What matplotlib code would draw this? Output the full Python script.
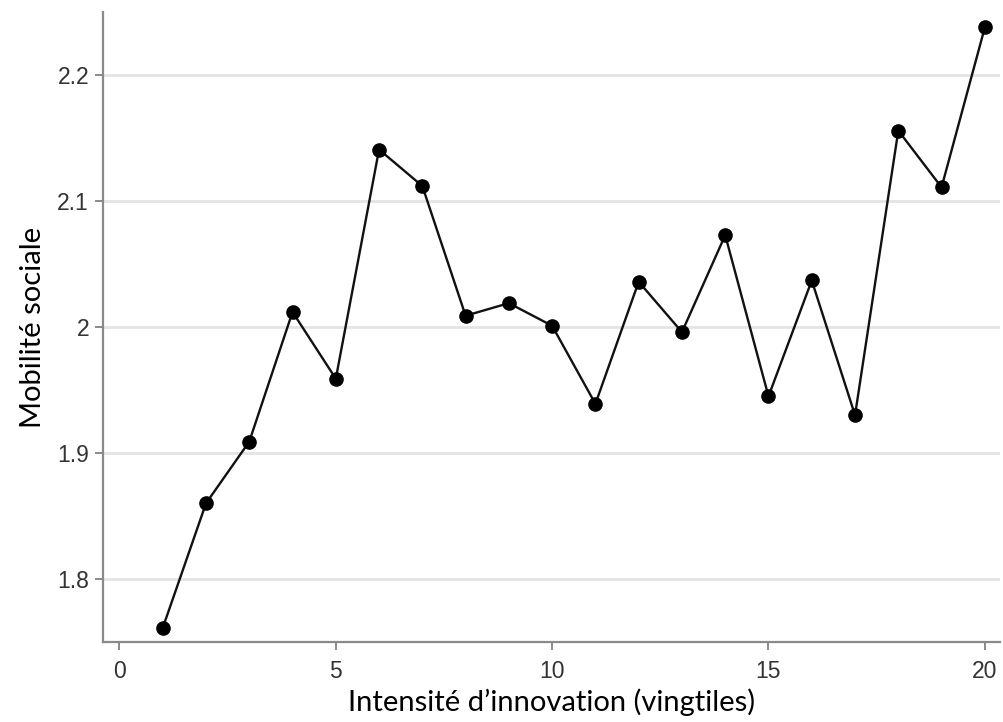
import numpy as np
import matplotlib
matplotlib.use('Agg')
import matplotlib.pyplot as plt

# vingtiles d'innovation et mobilité sociale
vingtiles = list(range(1, 21))
mobilite = [1.761, 1.860, 1.909, 2.012, 1.959, 2.141, 2.112, 2.009, 2.019, 2.001,
            1.939, 2.036, 1.996, 2.073, 1.945, 2.037, 1.930, 2.156, 2.111, 2.238]
xticks = [0, 5, 10, 15, 20]
yticks = [1.8, 1.9, 2.0, 2.1, 2.2]
ytick_labels = ['1.8', '1.9', '2', '2.1', '2.2']

fig = plt.figure(figsize=(10.04, 7.22), dpi=100)
ax = fig.add_axes([0.1026, 0.111, 0.8934, 0.872])

ax.plot(vingtiles, mobilite, color='#111111', lw=1.7, marker='o',
        ms=9.5, mfc='black', mec='black', zorder=3)

ax.set_xlim(-0.38, 20.35)
ax.set_ylim(1.75, 2.25)
ax.set_xticks(xticks)
ax.set_yticks(yticks)
ax.set_yticklabels(ytick_labels)

ax.grid(axis='y', color='#e4e4e4', lw=2)
ax.set_axisbelow(True)
for s in ['top', 'right']:
    ax.spines[s].set_visible(False)
for s in ['left', 'bottom']:
    ax.spines[s].set_color('#8a8a8a')
    ax.spines[s].set_linewidth(1.6)
ax.tick_params(colors='#8a8a8a', width=1.4, length=6, labelcolor='#333333',
               labelsize=16.5, pad=4, labelfontfamily='Liberation Sans')
ax.tick_params(axis='x', pad=7)

ax.set_xlabel('Intensité d\u2019innovation (vingtiles)', family='Lato',
              fontsize=21, color='black', labelpad=4)
ax.set_ylabel('Mobilité sociale', family='Lato', fontsize=21, color='black',
              labelpad=8)

fig.savefig('out.png', dpi=100)
